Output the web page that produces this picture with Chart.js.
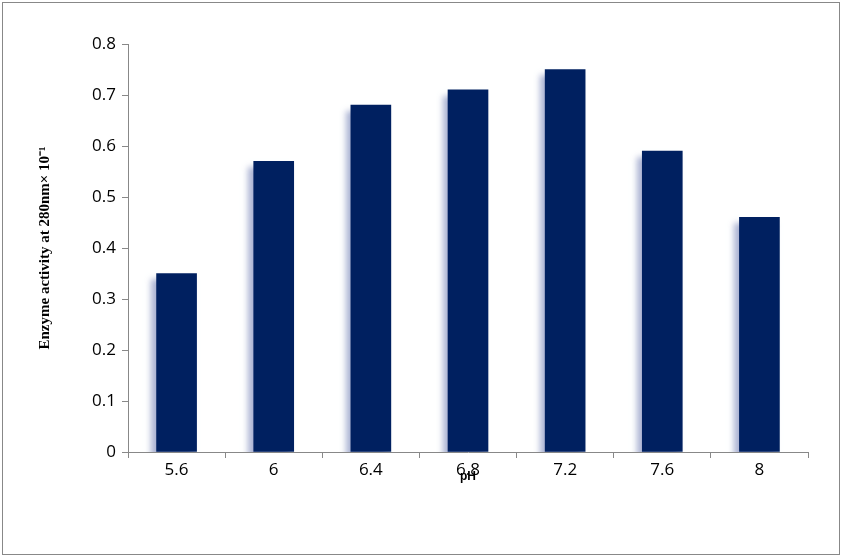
<!DOCTYPE html>
<html>
<head>
<meta charset="utf-8">
<script src="https://cdn.jsdelivr.net/npm/chart.js@4"></script>
<style>
  html, body { margin: 0; padding: 0; background: #fff; }
  .wrap { width: 844px; height: 559px; position: relative; }
  .frame { position: absolute; left: 2px; top: 2px; width: 838px; height: 553px; border: 1px solid #888; box-sizing: border-box; pointer-events: none; }
</style>
</head>
<body>
<div class="wrap">
  <canvas id="phChart" width="844" height="559"></canvas>
  <div class="frame"></div>
</div>
<script>
const phLabels = ["5.6", "6", "6.4", "6.8", "7.2", "7.6", "8"];
const activity = [0.35, 0.57, 0.68, 0.71, 0.75, 0.59, 0.46];
const yTicks = [0, 0.1, 0.2, 0.3, 0.4, 0.5, 0.6, 0.7, 0.8];

// soft shadow to the lower-left of each bar
const barShadow = {
  id: "barShadow",
  beforeDatasetsDraw(chart) {
    const c = chart.ctx;
    c.save();
    c.shadowColor = "rgba(150,160,200,0.8)";
    c.shadowBlur = 6;
    c.shadowOffsetX = -5;
    c.shadowOffsetY = 6;
  },
  afterDatasetsDraw(chart) {
    chart.ctx.restore();
  }
};

new Chart(document.getElementById("phChart"), {
  type: "bar",
  data: {
    labels: phLabels,
    datasets: [{
      data: activity,
      backgroundColor: "#002060",
      barThickness: 40
    }]
  },
  plugins: [barShadow],
  options: {
    responsive: false,
    animation: false,
    layout: { padding: { top: 44, right: 36, bottom: 71, left: 36 } },
    plugins: { legend: { display: false }, tooltip: { enabled: false } },
    scales: {
      y: {
        min: 0,
        max: 0.8,
        afterBuildTicks(scale) { scale.ticks = yTicks.map(v => ({ value: v })); },
        afterFit(scale) { scale.width = 92; },
        border: { color: "#888", width: 1 },
        grid: { drawOnChartArea: false, drawTicks: true, tickLength: 6, color: "#888" },
        ticks: { color: "#000", font: { family: "Open Sans", size: 17 }, padding: 6, callback: v => String(v) },
        title: {
          display: true,
          text: "Enzyme activity at 280nm× 10⁻¹",
          color: "#000",
          font: { family: "Liberation Serif", size: 15, weight: "bold" },
          padding: { top: 0, bottom: 14 }
        }
      },
      x: {
        afterFit(scale) { scale.height = 36; },
        border: { color: "#888", width: 1 },
        grid: { offset: true, drawOnChartArea: false, drawTicks: true, tickLength: 6, color: "#888" },
        ticks: { color: "#000", font: { family: "Open Sans", size: 17 }, padding: 2 },
        title: {
          display: true,
          text: "pH",
          color: "#000",
          font: { family: "Liberation Sans", size: 12, weight: "bold" },
          padding: { top: 0 }
        }
      }
    }
  }
});
</script>
</body>
</html>
